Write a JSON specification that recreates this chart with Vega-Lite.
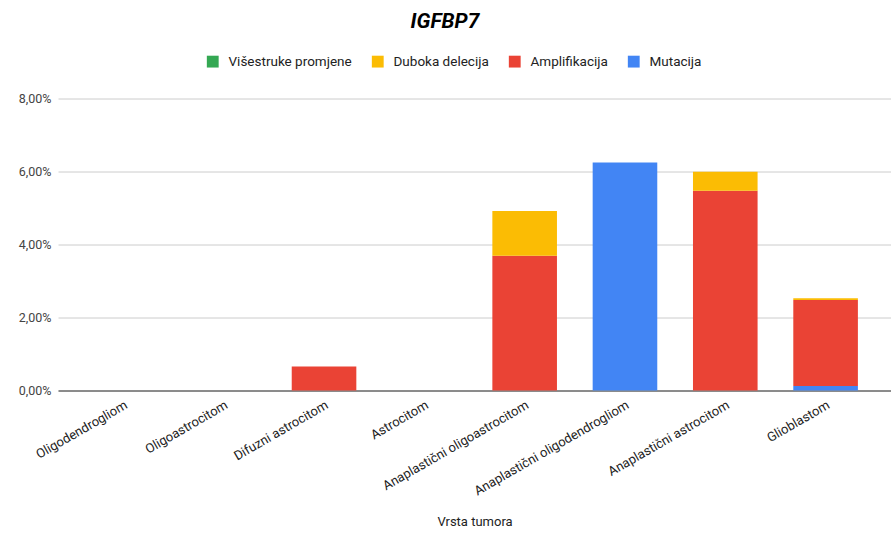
{
  "$schema": "https://vega.github.io/schema/vega-lite/v6.json",
  "width": 833,
  "height": 292,
  "autosize": {"type": "none"},
  "padding": {"left": 58, "top": 98.5, "right": 0, "bottom": 145.5},
  "background": "white",
  "config": {
    "font": "Roboto",
    "view": {"stroke": null}
  },
  "title": {
    "text": "IGFBP7",
    "font": "Roboto",
    "fontSize": 21,
    "fontWeight": "bold",
    "fontStyle": "italic",
    "color": "#000000",
    "anchor": "middle",
    "dx": -29.5,
    "offset": 23
  },
  "data": {
    "values": [
      {"tumor": "Oligodendrogliom", "tip": "Mutacija", "vrijednost": 0},
      {"tumor": "Oligoastrocitom", "tip": "Mutacija", "vrijednost": 0},
      {"tumor": "Difuzni astrocitom", "tip": "Amplifikacija", "vrijednost": 0.0066},
      {"tumor": "Astrocitom", "tip": "Mutacija", "vrijednost": 0},
      {"tumor": "Anaplastični oligoastrocitom", "tip": "Amplifikacija", "vrijednost": 0.0369},
      {"tumor": "Anaplastični oligoastrocitom", "tip": "Duboka delecija", "vrijednost": 0.0123},
      {"tumor": "Anaplastični oligodendrogliom", "tip": "Mutacija", "vrijednost": 0.0625},
      {"tumor": "Anaplastični astrocitom", "tip": "Amplifikacija", "vrijednost": 0.0547},
      {"tumor": "Anaplastični astrocitom", "tip": "Duboka delecija", "vrijednost": 0.0052},
      {"tumor": "Glioblastom", "tip": "Mutacija", "vrijednost": 0.0012},
      {"tumor": "Glioblastom", "tip": "Amplifikacija", "vrijednost": 0.0236},
      {"tumor": "Glioblastom", "tip": "Duboka delecija", "vrijednost": 0.0005},
      {"tumor": "Glioblastom", "tip": "Višestruke promjene", "vrijednost": 0}
    ]
  },
  "transform": [
    {"calculate": "indexof(['Mutacija','Amplifikacija','Duboka delecija','Višestruke promjene'], datum.tip)", "as": "redoslijed"}
  ],
  "mark": {"type": "bar"},
  "encoding": {
    "x": {
      "field": "tumor",
      "type": "nominal",
      "sort": ["Oligodendrogliom", "Oligoastrocitom", "Difuzni astrocitom", "Astrocitom", "Anaplastični oligoastrocitom", "Anaplastični oligodendrogliom", "Anaplastični astrocitom", "Glioblastom"],
      "scale": {"paddingInner": 0.356, "paddingOuter": 0.33},
      "axis": {
        "title": "Vrsta tumora",
        "titleFont": "Roboto",
        "titleFontSize": 13,
        "titleFontWeight": "normal",
        "titleColor": "#222222",
        "titlePadding": 18,
        "labelAngle": -30,
        "labelAlign": "right",
        "labelBaseline": "top",
        "labelFont": "Roboto",
        "labelFontSize": 13,
        "labelColor": "#222222",
        "labelPadding": 8,
        "labelLimit": 300,
        "ticks": false,
        "domain": true,
        "domainColor": "#333333",
        "domainWidth": 1
      }
    },
    "y": {
      "field": "vrijednost",
      "type": "quantitative",
      "stack": "zero",
      "scale": {"domain": [0, 0.08], "nice": false},
      "axis": {
        "title": null,
        "values": [0, 0.02, 0.04, 0.06, 0.08],
        "labelExpr": "replace(format(datum.value, '.2%'), '.', ',')",
        "labelFont": "Roboto",
        "labelFontSize": 12.5,
        "labelColor": "#444444",
        "labelPadding": 7,
        "ticks": false,
        "domain": false,
        "grid": true,
        "gridColor": "#cccccc",
        "gridWidth": 1
      }
    },
    "color": {
      "field": "tip",
      "type": "nominal",
      "scale": {
        "domain": ["Višestruke promjene", "Duboka delecija", "Amplifikacija", "Mutacija"],
        "range": ["#34A853", "#FBBC04", "#EA4335", "#4285F4"]
      },
      "legend": {
        "title": null,
        "orient": "none",
        "direction": "horizontal",
        "legendX": 148,
        "legendY": -44,
        "symbolType": "square",
        "symbolSize": 140,
        "symbolStrokeWidth": 0,
        "labelFont": "Roboto",
        "labelFontSize": 13.5,
        "labelColor": "#222222",
        "columnPadding": 19,
        "labelOffset": 9
      }
    },
    "order": {"field": "redoslijed", "type": "quantitative"}
  }
}
